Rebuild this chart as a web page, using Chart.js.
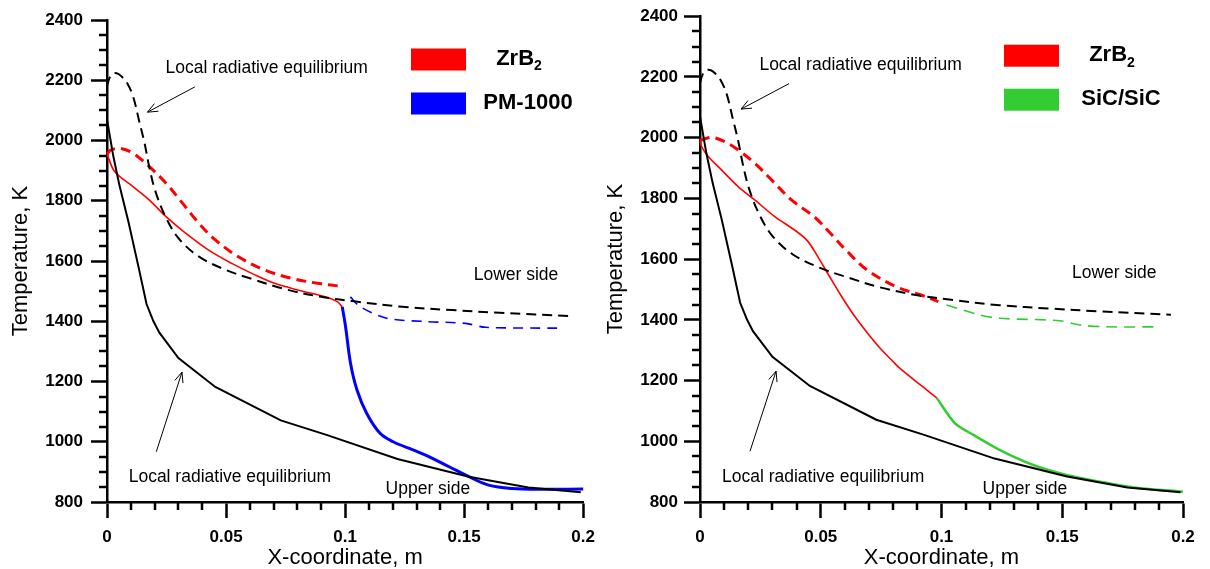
<!DOCTYPE html>
<html>
<head>
<meta charset="utf-8">
<script src="https://cdn.jsdelivr.net/npm/chart.js@4.4.1/dist/chart.umd.min.js"></script>
<style>
  html, body { margin: 0; padding: 0; background: #fff; }
  body { width: 1210px; height: 569px; position: relative; overflow: hidden; }
  canvas { position: absolute; top: 0; }
  #panelA { left: 0; }
  #panelB { left: 600px; }
</style>
</head>
<body>
<canvas id="panelA" width="604" height="569"></canvas>
<canvas id="panelB" width="610" height="569"></canvas>
<script>
// ---------- axes ----------
const xTickValues = [0, 0.05, 0.1, 0.15, 0.2];
const xTickLabels = ['0', '0.05', '0.1', '0.15', '0.2'];
const yTickValues = [800, 1000, 1200, 1400, 1600, 1800, 2000, 2200, 2400];
const yTickLabels = ['800', '1000', '1200', '1400', '1600', '1800', '2000', '2200', '2400'];

// ---------- local radiative equilibrium (both panels) ----------
// upper side, solid black
const lreUpperX = [0, 0.0026, 0.0052, 0.009, 0.0133, 0.0166, 0.0195, 0.022, 0.030, 0.0455, 0.073, 0.0925, 0.122, 0.152, 0.177, 0.199];
const lreUpperT = [2070, 1950, 1852, 1730, 1578, 1457, 1400, 1362, 1278, 1182, 1071, 1022, 943, 884, 848, 832];
// lower side, dashed black
const lreLowerX = [0, 0.0012, 0.0028, 0.0045, 0.0062, 0.0085, 0.011, 0.0135, 0.0158, 0.0178, 0.0203, 0.0245, 0.030, 0.0383, 0.0494, 0.061, 0.075, 0.090, 0.104, 0.124, 0.145, 0.165, 0.195];
const lreLowerT = [2180, 2210, 2223, 2222, 2212, 2190, 2145, 2065, 1990, 1910, 1832, 1748, 1676, 1616, 1572, 1540, 1506, 1481, 1466, 1448, 1437, 1428, 1417];

// ---------- left panel: ZrB2 nose + PM-1000 ----------
const zrbUpperAX = [0, 0.0033, 0.0109, 0.0178, 0.0248, 0.0331, 0.0427, 0.0524, 0.0621, 0.0704, 0.0801, 0.0912, 0.0967, 0.0988];
const zrbUpperAT = [1955, 1896, 1847, 1802, 1747, 1692, 1636, 1592, 1554, 1526, 1504, 1482, 1465, 1448];
const zrbLowerAX = [0, 0.0015, 0.0054, 0.0109, 0.0178, 0.0248, 0.0317, 0.0386, 0.0455, 0.0552, 0.0663, 0.0773, 0.0884, 0.0995];
const zrbLowerAT = [1955, 1968, 1974, 1958, 1913, 1858, 1792, 1725, 1670, 1614, 1570, 1543, 1526, 1515];
const pmUpperX = [0.0988, 0.1002, 0.1023, 0.105, 0.1091, 0.1147, 0.1202, 0.1285, 0.1354, 0.1437, 0.152, 0.1603, 0.17, 0.1824, 0.2];
const pmUpperT = [1448, 1382, 1260, 1172, 1094, 1028, 1000, 973, 950, 917, 884, 856, 845, 842, 843];
const pmLowerX = [0.1022, 0.1064, 0.1174, 0.134, 0.1506, 0.1589, 0.1893];
const pmLowerT = [1481, 1448, 1410, 1399, 1393, 1380, 1377];

// ---------- right panel: ZrB2 nose + SiC/SiC ----------
const zrbUpperBX = [0, 0.0007, 0.0035, 0.009, 0.0159, 0.0228, 0.0311, 0.0393, 0.0445, 0.049, 0.0531, 0.0587, 0.0642, 0.070, 0.0745, 0.080, 0.0828, 0.0925, 0.098];
const zrbUpperBT = [1992, 1970, 1937, 1893, 1838, 1794, 1739, 1695, 1660, 1605, 1550, 1476, 1410, 1350, 1307, 1262, 1240, 1178, 1143];
const zrbLowerBX = [0, 0.0048, 0.0104, 0.0159, 0.0228, 0.0297, 0.038, 0.0475, 0.054, 0.061, 0.0694, 0.0815, 0.0918, 0.0987];
const zrbLowerBT = [1990, 2001, 1986, 1959, 1915, 1860, 1794, 1738, 1685, 1625, 1563, 1508, 1481, 1460];
const sicUpperX = [0.098, 0.1056, 0.1132, 0.1242, 0.138, 0.1518, 0.1656, 0.1794, 0.2];
const sicUpperT = [1143, 1059, 1021, 971, 922, 889, 867, 848, 834];
const sicLowerX = [0.1021, 0.1159, 0.1242, 0.1491, 0.1573, 0.1684, 0.1905];
const sicLowerT = [1449, 1416, 1405, 1397, 1383, 1377, 1377];

// ---------- colours ----------
const RED = '#ff0000';
const BLUE = '#0000ff';
const GREEN = '#33cc33';
const BLACK = '#000000';
const FONT = '"Liberation Sans", Arial, Helvetica, sans-serif';

const pts = (xs, ts) => xs.map((x, i) => ({ x: x, y: ts[i] }));

function series(xs, ts, color, width, dash, tension) {
  return {
    data: pts(xs, ts),
    borderColor: color,
    backgroundColor: color,
    borderWidth: width,
    borderDash: dash || [],
    tension: tension,
    pointRadius: 0,
    fill: false,
    clip: false
  };
}

// Minor ticks, legend boxes, text labels and arrows
const decorPlugin = {
  id: 'decor',
  afterDraw(chart, args, opts) {
    const { ctx, chartArea: ca } = chart;
    const sx = chart.scales.x, sy = chart.scales.y;
    ctx.save();

    // minor ticks
    ctx.strokeStyle = BLACK;
    ctx.lineWidth = 2.5;
    ctx.lineCap = 'butt';
    for (let v = 850; v < 2400; v += 50) {
      if (v % 200 === 0) continue;
      const py = Math.round(sy.getPixelForValue(v));
      ctx.beginPath(); ctx.moveTo(ca.left, py); ctx.lineTo(ca.left - 8, py); ctx.stroke();
    }
    for (let i = 1; i < 20; i++) {
      if (i % 5 === 0) continue;
      const px = Math.round(sx.getPixelForValue(i / 100));
      ctx.beginPath(); ctx.moveTo(px, ca.bottom); ctx.lineTo(px, ca.bottom + 8); ctx.stroke();
    }

    // text labels
    ctx.fillStyle = BLACK;
    ctx.font = '17.5px ' + FONT;
    ctx.textAlign = 'left';
    ctx.textBaseline = 'middle';
    opts.notes.forEach(n => {
      ctx.fillText(n.text, sx.getPixelForValue(n.x), sy.getPixelForValue(n.y));
    });

    // arrows
    ctx.lineWidth = 1;
    opts.arrows.forEach(a => {
      const x1 = sx.getPixelForValue(a.x1), y1 = sy.getPixelForValue(a.y1);
      const x2 = sx.getPixelForValue(a.x2), y2 = sy.getPixelForValue(a.y2);
      const ang = Math.atan2(y2 - y1, x2 - x1);
      ctx.beginPath(); ctx.moveTo(x1, y1); ctx.lineTo(x2, y2); ctx.stroke();
      ctx.beginPath();
      ctx.moveTo(x2 - 11 * Math.cos(ang - 0.4), y2 - 11 * Math.sin(ang - 0.4));
      ctx.lineTo(x2, y2);
      ctx.lineTo(x2 - 11 * Math.cos(ang + 0.4), y2 - 11 * Math.sin(ang + 0.4));
      ctx.stroke();
    });

    // legend
    opts.legend.forEach((item, i) => {
      const rx = ca.left + 304, ry = ca.top + 28.5 + i * 44;
      ctx.fillStyle = item.color;
      ctx.fillRect(rx, ry, 55, 22);
      ctx.fillStyle = BLACK;
      ctx.textBaseline = 'middle';
      ctx.textAlign = 'left';
      ctx.font = 'bold 22px ' + FONT;
      const wMain = ctx.measureText(item.label).width;
      ctx.font = 'bold 14px ' + FONT;
      const wSub = item.sub ? ctx.measureText(item.sub).width : 0;
      const cx = ca.left + (i === 0 ? 412 : 421);
      const tx = cx - (wMain + wSub) / 2;
      const ty = ry + 10;
      ctx.font = 'bold 22px ' + FONT;
      ctx.fillText(item.label, tx, ty);
      if (item.sub) {
        ctx.font = 'bold 14px ' + FONT;
        ctx.fillText(item.sub, tx + wMain, ty + 8);
      }
    });

    ctx.restore();
  }
};

const notes = [
  { text: 'Local radiative equilibrium', x: 0.0246, y: 2240 },
  { text: 'Local radiative equilibrium', x: 0.0091, y: 882 },
  { text: 'Lower side', x: 0.154, y: 1553 },
  { text: 'Upper side', x: 0.117, y: 843 }
];
const arrows = [
  { x1: 0.0369, y1: 2178, x2: 0.017, y2: 2094 },
  { x1: 0.0207, y1: 967, x2: 0.0315, y2: 1231 }
];

function makeChart(id, datasets, legend, cfg) {
  return new Chart(document.getElementById(id), {
    type: 'line',
    data: { datasets: datasets },
    options: {
      responsive: false,
      animation: false,
      devicePixelRatio: 1,
      layout: { padding: { left: 0, right: cfg.padRight, top: cfg.padTop, bottom: 0 } },
      plugins: {
        legend: { display: false },
        tooltip: { enabled: false },
        decor: { notes: notes, arrows: arrows, legend: legend }
      },
      scales: {
        x: {
          type: 'linear', min: 0, max: 0.2,
          afterBuildTicks: s => { s.ticks = xTickValues.map(v => ({ value: v })); },
          afterFit: s => { s.height = 67; },
          ticks: {
            callback: (v, i) => xTickLabels[i],
            font: { family: FONT, size: 17, weight: 'bold' },
            color: BLACK, padding: 9, maxRotation: 0, autoSkip: false
          },
          grid: { display: true, drawOnChartArea: false, drawTicks: true, tickLength: 16, tickWidth: 2.5, tickColor: BLACK },
          border: { display: true, color: BLACK, width: 2.5 },
          title: { display: true, text: 'X-coordinate, m', color: BLACK,
                   font: { family: FONT, size: 22, lineHeight: 1 }, padding: { top: 0, bottom: 0 } }
        },
        y: {
          type: 'linear', min: 800, max: 2400,
          afterBuildTicks: s => { s.ticks = yTickValues.map(v => ({ value: v })); },
          afterFit: s => { s.width = cfg.yWidth; },
          ticks: {
            callback: (v, i) => yTickLabels[i],
            font: { family: FONT, size: 17, weight: 'bold' },
            color: BLACK, padding: cfg.yPad, autoSkip: false
          },
          grid: { display: true, drawOnChartArea: false, drawTicks: true, tickLength: 16, tickWidth: 2.5, tickColor: BLACK },
          border: { display: true, color: BLACK, width: 2.5 },
          title: { display: true, text: 'Temperature, K', color: BLACK,
                   font: { family: FONT, size: 22, lineHeight: 1 }, padding: { top: cfg.titlePad, bottom: 0 } }
        }
      }
    },
    plugins: [decorPlugin]
  });
}

makeChart('panelA', [
  series(lreUpperX, lreUpperT, BLACK, 2, [], 0),
  series(lreLowerX, lreLowerT, BLACK, 2, [10, 6], 0.35),
  series(zrbUpperAX, zrbUpperAT, RED, 1.6, [], 0.35),
  series(zrbLowerAX, zrbLowerAT, RED, 3, [10, 6], 0.35),
  series(pmUpperX, pmUpperT, BLUE, 3, [], 0.35),
  series(pmLowerX, pmLowerT, BLUE, 1.6, [10, 7], 0.3)
], [
  { label: 'ZrB', sub: '2', color: RED },
  { label: 'PM-1000', sub: '', color: BLUE }
], { padTop: 20, padRight: 15, yWidth: 107, yPad: 8, titlePad: 10 });

makeChart('panelB', [
  series(lreUpperX, lreUpperT, BLACK, 2, [], 0),
  series(lreLowerX, lreLowerT, BLACK, 2, [10, 6], 0.35),
  series(zrbUpperBX, zrbUpperBT, RED, 1.6, [], 0.35),
  series(zrbLowerBX, zrbLowerBT, RED, 3, [10, 6], 0.35),
  series(sicUpperX, sicUpperT, GREEN, 2.5, [], 0.25),
  series(sicLowerX, sicLowerT, GREEN, 1.6, [11, 7], 0.3)
], [
  { label: 'ZrB', sub: '2', color: RED },
  { label: 'SiC/SiC', sub: '', color: GREEN }
], { padTop: 16, padRight: 27, yWidth: 100, yPad: 6, titlePad: 5 });
</script>
</body>
</html>
